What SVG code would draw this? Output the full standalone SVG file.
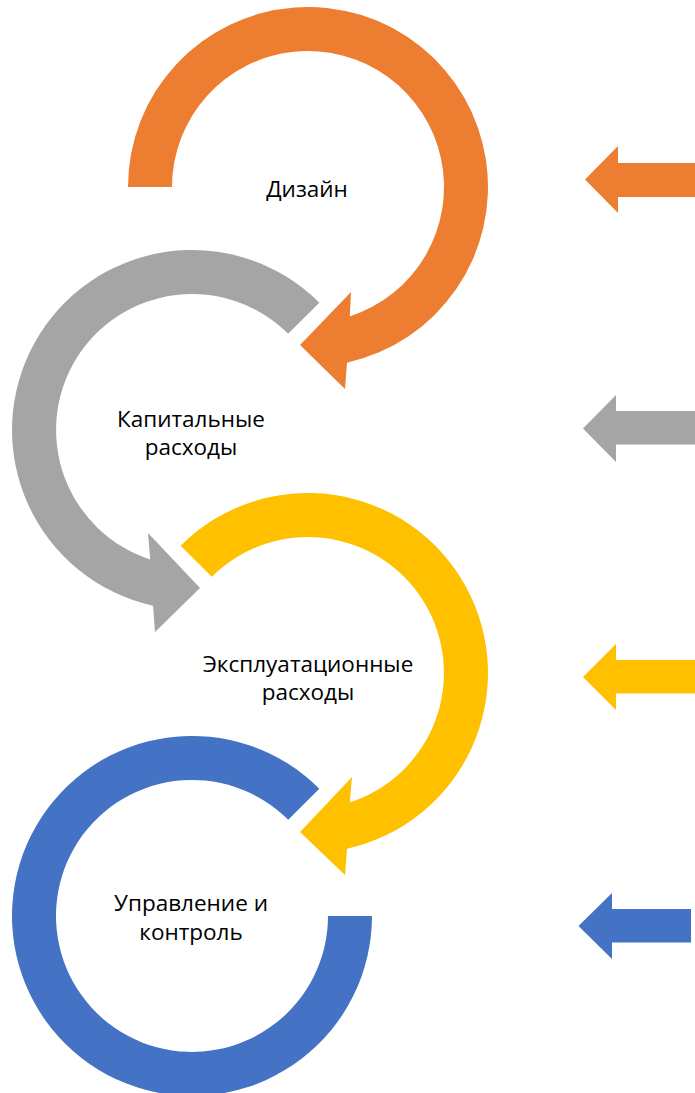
<svg xmlns="http://www.w3.org/2000/svg" width="695" height="1093" viewBox="0 0 695 1093">
<style>
.lbl{font-family:"Open Sans","Noto Sans","Liberation Sans",sans-serif;font-size:22.5px;fill:#000;text-anchor:middle}
.o{fill:#ED7D31}.g{fill:#A5A5A5}.y{fill:#FFC000}.b{fill:#4472C4}
</style>
<rect width="695" height="1093" fill="#fff"/>
<g id="node-design">
<path class="o" d="M128 187 A180 180 0 1 1 347 362.7 L345 389 L300 345 L351 292 L349.8 316.4 A136 136 0 1 0 172 187 Z"/>
<text class="lbl" x="307" y="197">Дизайн</text>
</g>
<g id="node-capex">
<path class="g" d="M319.3 302.7 A180 180 0 1 0 153 605.7 L155 632 L200 588 L148 533 L150.2 559.4 A136 136 0 1 1 288.2 333.8 Z"/>
<text class="lbl" x="191" y="427">Капитальные</text>
<text class="lbl" x="191" y="455">расходы</text>
</g>
<g id="node-opex">
<path class="y" d="M180.7 545.7 A180 180 0 1 1 347 848.7 L345 875 L300 832 L352 777 L349.8 802.4 A136 136 0 1 0 211.8 576.8 Z"/>
<text class="lbl" x="308" y="672">Эксплуатационные</text>
<text class="lbl" x="308" y="700">расходы</text>
</g>
<g id="node-control">
<path class="b" d="M319.3 788.7 A180 180 0 1 0 372 916 L328 916 A136 136 0 1 1 288.2 819.8 Z"/>
<text class="lbl" x="191" y="911">Управление и</text>
<text class="lbl" x="191" y="939.5">контроль</text>
</g>
<g id="connectors">
<path class="o" d="M585 179.5 L618 146 L618 163 L695 163 L695 197 L618 197 L618 213 Z"/>
<path class="g" d="M583 428.5 L616 395 L616 411 L695 411 L695 444.5 L616 444.5 L616 462 Z"/>
<path class="y" d="M583 677 L616 644 L616 660 L695 660 L695 693.5 L616 693.5 L616 710 Z"/>
<path class="b" d="M578.5 926 L612 893 L612 909 L691 909 L691 942.5 L612 942.5 L612 959 Z"/>
</g>
</svg>
